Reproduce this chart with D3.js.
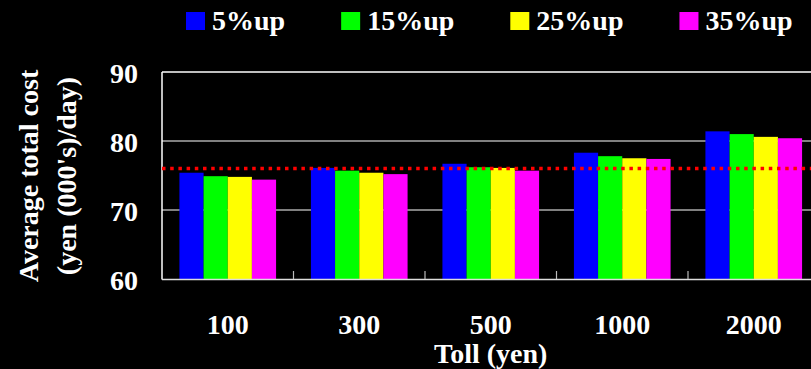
<!DOCTYPE html>
<html>
<head>
<meta charset="utf-8">
<script src="https://cdn.jsdelivr.net/npm/d3@7"></script>
<style>
  html, body { margin: 0; padding: 0; background: #000; }
  svg { display: block; }
  text { font-family: "Liberation Serif", "Times New Roman", serif; font-weight: bold; fill: #fff; }
</style>
</head>
<body>
<svg id="chart" width="811" height="369"></svg>
<script>
// ---- data ----
const categories = ["100", "300", "500", "1000", "2000"];
const seriesNames = ["5%up", "15%up", "25%up", "35%up"];
const seriesColors = ["#0000ff", "#00ff00", "#ffff00", "#ff00ff"];
const values5 = [75.4, 76.1, 76.7, 78.3, 81.4];
const values15 = [74.9, 75.7, 76.2, 77.8, 81.0];
const values25 = [74.8, 75.4, 76.1, 77.5, 80.6];
const values35 = [74.4, 75.2, 75.7, 77.4, 80.4];
const seriesValues = [values5, values15, values25, values35];
const yTicks = [60, 70, 80, 90];
const baselineValue = 76;
const yTitleLines = ["Average total cost", "(yen (000's)/day)"];
const xTitle = "Toll (yen)";

// ---- layout ----
const svg = d3.select("#chart");
const plotLeft = 162, plotRight = 819.5, plotTop = 72, plotBottom = 279;

const x0 = d3.scaleBand().domain(categories).range([plotLeft, plotRight])
  .paddingInner(0.265).paddingOuter(0.1325);
const x1 = d3.scaleBand().domain(seriesNames).range([0, x0.bandwidth()]);
const y = d3.scaleLinear().domain([60, 90]).range([plotBottom, plotTop]);
const step = x0.step();

// gridlines
svg.append("g").selectAll("line").data(yTicks.filter(t => t > 60)).join("line")
  .attr("x1", plotLeft).attr("x2", plotRight)
  .attr("y1", d => y(d)).attr("y2", d => y(d))
  .attr("stroke", "#fff").attr("stroke-width", d => d === 90 ? 1.6 : 1.2);

// bars
const groups = svg.append("g").selectAll("g").data(categories).join("g")
  .attr("transform", c => `translate(${x0(c)},0)`);
groups.selectAll("rect")
  .data((c, i) => seriesNames.map((s, j) => ({ s, j, v: seriesValues[j][i] })))
  .join("rect")
  .attr("x", d => x1(d.s)).attr("width", x1.bandwidth())
  .attr("y", d => y(d.v)).attr("height", d => y(60) - y(d.v))
  .attr("fill", d => seriesColors[d.j]);

// axis lines
svg.append("line").attr("x1", plotLeft).attr("x2", plotLeft)
  .attr("y1", plotTop).attr("y2", plotBottom + 0.5)
  .attr("stroke", "#fff").attr("stroke-width", 1.5);
svg.append("line").attr("x1", plotLeft).attr("x2", plotRight)
  .attr("y1", plotBottom + 0.5).attr("y2", plotBottom + 0.5)
  .attr("stroke", "#ddd").attr("stroke-width", 1.5);

// category boundary ticks
svg.append("g").selectAll("line").data(d3.range(1, categories.length)).join("line")
  .attr("x1", i => plotLeft + i * step).attr("x2", i => plotLeft + i * step)
  .attr("y1", plotBottom - 8).attr("y2", plotBottom)
  .attr("stroke", "#bbb").attr("stroke-width", 1.2);

// baseline red dotted line
svg.append("line").attr("x1", plotLeft).attr("x2", plotRight)
  .attr("y1", y(baselineValue)).attr("y2", y(baselineValue))
  .attr("stroke", "#ff0000").attr("stroke-width", 3.5)
  .attr("stroke-dasharray", "3.5 4.7");

// y tick labels
svg.append("g").selectAll("text").data(yTicks).join("text")
  .attr("x", 138).attr("y", d => y(d) + 11)
  .attr("text-anchor", "end").attr("font-size", 28)
  .text(d => d);

// x tick labels
svg.append("g").selectAll("text").data(categories).join("text")
  .attr("x", c => x0(c) + x0.bandwidth() / 2).attr("y", 334)
  .attr("text-anchor", "middle").attr("font-size", 28)
  .text(c => c);

// x title
svg.append("text").attr("x", (plotLeft + plotRight) / 2).attr("y", 363)
  .attr("text-anchor", "middle").attr("font-size", 28).text(xTitle);

// y title
const yTitleX = [38, 76];
yTitleLines.forEach((t, i) => {
  svg.append("text")
    .attr("transform", `translate(${yTitleX[i]},176) rotate(-90)`)
    .attr("text-anchor", "middle").attr("font-size", 28).text(t);
});

// legend
const legend = svg.append("g");
let lx = 186;
seriesNames.forEach((s, i) => {
  legend.append("rect").attr("x", lx).attr("y", 12).attr("width", 19).attr("height", 18)
    .attr("fill", seriesColors[i]);
  const t = legend.append("text").attr("x", lx + 26).attr("y", 30)
    .attr("font-size", 28).text(s);
  lx = lx + 26 + t.node().getComputedTextLength() + 56;
});
</script>
</body>
</html>
